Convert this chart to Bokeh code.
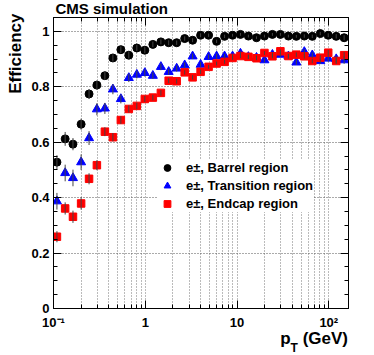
from bokeh.plotting import figure
from bokeh.layouts import column
from bokeh.models import (FixedTicker, LogAxis, LinearAxis, Whisker, ColumnDataSource,
                          Legend, LegendItem, Title, Div, CustomJSTickFormatter, Range1d)
from bokeh.embed import file_html
from bokeh.resources import INLINE

# ---- data ----
pt = [0.109, 0.134, 0.163, 0.200, 0.244, 0.297, 0.363, 0.444, 0.542, 0.662,
      0.809, 0.989, 1.21, 1.48, 1.80, 2.20, 2.69, 3.28, 4.01, 4.90,
      5.99, 7.32, 8.94, 10.9, 13.3, 16.3, 19.9, 24.3, 29.7, 36.3,
      44.3, 54.1, 66.1, 80.8, 98.6, 120.5, 147.0]

eff_barrel = [0.528, 0.612, 0.593, 0.665, 0.774, 0.806, 0.840, 0.904, 0.934, 0.914,
              0.940, 0.932, 0.953, 0.962, 0.959, 0.959, 0.974, 0.968, 0.986, 0.986,
              0.964, 0.982, 0.986, 0.989, 0.983, 0.977, 0.983, 0.989, 0.989, 0.983,
              0.982, 0.983, 0.982, 0.992, 0.986, 0.982, 0.977]
err_barrel = [0.025, 0.025, 0.022, 0.020, 0.018, 0.016, 0.015, 0.013, 0.012, 0.012,
              0.011, 0.011, 0.010, 0.009, 0.009, 0.008, 0.008, 0.007, 0.007, 0.006,
              0.006, 0.006, 0.005, 0.005, 0.005, 0.005, 0.005, 0.005, 0.005, 0.005,
              0.005, 0.006, 0.006, 0.006, 0.007, 0.008, 0.009]

eff_transition = [0.387, 0.489, 0.471, 0.528, 0.615, 0.719, 0.722, 0.791, 0.756, 0.832,
                  0.844, 0.850, 0.840, 0.872, 0.854, 0.866, 0.878, 0.910, 0.880, 0.908,
                  0.910, 0.910, 0.910, 0.920, 0.908, 0.905, 0.896, 0.916, 0.916, 0.910,
                  0.888, 0.926, 0.914, 0.893, 0.902, 0.900, 0.896]
err_transition = [0.030, 0.030, 0.030, 0.028, 0.025, 0.022, 0.020, 0.018, 0.016, 0.015,
                  0.014, 0.013, 0.012, 0.012, 0.011, 0.011, 0.010, 0.010, 0.009, 0.009,
                  0.009, 0.008, 0.008, 0.008, 0.008, 0.008, 0.008, 0.008, 0.008, 0.009,
                  0.009, 0.010, 0.010, 0.010, 0.011, 0.012, 0.013]

eff_endcap = [0.259, 0.361, 0.331, 0.379, 0.468, 0.517, 0.638, 0.618, 0.680, 0.720,
              0.731, 0.756, 0.761, 0.778, 0.822, 0.820, 0.852, 0.834, 0.854, 0.872,
              0.884, 0.890, 0.904, 0.911, 0.908, 0.903, 0.922, 0.910, 0.928, 0.911,
              0.916, 0.910, 0.893, 0.905, 0.923, 0.893, 0.914]
err_endcap = [0.020, 0.022, 0.022, 0.022, 0.020, 0.018, 0.016, 0.015, 0.014, 0.013,
              0.012, 0.011, 0.010, 0.010, 0.009, 0.009, 0.008, 0.008, 0.008, 0.007,
              0.007, 0.007, 0.007, 0.007, 0.007, 0.007, 0.007, 0.007, 0.007, 0.007,
              0.008, 0.008, 0.008, 0.009, 0.010, 0.011, 0.012]

x_major = [0.1, 1, 10, 100]
x_major_labels = ["10\u207b\u00b9", "1", "10", "10\u00b2"]
x_minor = [0.2, 0.3, 0.4, 0.5, 0.6, 0.7, 0.8, 0.9,
           2, 3, 4, 5, 6, 7, 8, 9,
           20, 30, 40, 50, 60, 70, 80, 90, 200]
y_major = [0.0, 0.2, 0.4, 0.6, 0.8, 1.0]
y_major_labels = ["0", "0.2", "0.4", "0.6", "0.8", "1"]
y_minor = [0.05, 0.1, 0.15, 0.25, 0.3, 0.35, 0.45, 0.5, 0.55, 0.65, 0.7, 0.75,
           0.85, 0.9, 0.95, 1.05]

series_names = ["e\u00b1, Barrel region", "e\u00b1, Transition region", "e\u00b1, Endcap region"]
title_text = "CMS simulation"
y_title = "Efficiency"

FONT = "Liberation Sans"

p = figure(width=374, height=332, x_axis_type="log",
           x_range=Range1d(0.1, 164), y_range=Range1d(0, 1.05),
           output_backend="svg", toolbar_location=None,
           min_border_left=49, min_border_right=26, min_border_top=17, min_border_bottom=24)
p.outline_line_color = "black"
p.outline_line_width = 1
p.background_fill_color = "white"
p.border_fill_color = "white"

p.title.text = title_text
p.title.align = "left"
p.title.vertical_align = "top"
p.title.offset = 2
p.title.standoff = -3
p.title.text_font = FONT
p.title.text_font_style = "bold"
p.title.text_font_size = "15px"
p.title.text_color = "black"

xt = FixedTicker(ticks=x_major, minor_ticks=x_minor)
yt = FixedTicker(ticks=y_major, minor_ticks=y_minor)

xa = p.xaxis[0]
xa.ticker = xt
xa.major_label_overrides = dict(zip(x_major, x_major_labels))
ya = p.yaxis[0]
ya.ticker = yt
ya.major_label_overrides = dict(zip(y_major, y_major_labels))

for ax in (xa, ya):
    ax.major_tick_in = 8
    ax.major_tick_out = 0
    ax.minor_tick_in = 4
    ax.minor_tick_out = 0
    ax.major_label_text_font = FONT
    ax.major_label_text_font_style = "bold"
    ax.major_label_text_font_size = "13px"
    ax.major_label_text_color = "black"
    ax.axis_line_color = "black"
    ax.major_tick_line_color = "black"
    ax.minor_tick_line_color = "black"
xa.major_label_standoff = 6
ya.major_label_standoff = 4

blank = CustomJSTickFormatter(code="return ''")
top = LogAxis(ticker=xt, formatter=blank)
right = LinearAxis(ticker=yt, formatter=blank)
for ax in (top, right):
    ax.major_tick_in = 8
    ax.major_tick_out = 0
    ax.minor_tick_in = 4
    ax.minor_tick_out = 0
    ax.major_label_standoff = 0
    ax.major_label_text_font_size = "0px"
    ax.axis_line_color = "black"
p.add_layout(top, "above")
p.add_layout(right, "right")

p.add_layout(Title(text=y_title, align="right", offset=-4, text_font=FONT,
                   text_font_style="bold", text_font_size="17px", text_color="black",
                   standoff=7), "left")

# grids
p.xgrid.ticker = xt
p.ygrid.ticker = yt
p.xgrid.grid_line_color = "#777777"
p.xgrid.grid_line_dash = "1 2"
p.xgrid.minor_grid_line_color = "#777777"
p.xgrid.minor_grid_line_dash = "1 2"
p.ygrid.grid_line_color = "#555555"
p.ygrid.grid_line_dash = "1 2"
p.ygrid.minor_grid_line_color = None

styles = [
    (eff_barrel, err_barrel, "circle", 8, "black"),
    (eff_transition, err_transition, "triangle", 9, "#0000ff"),
    (eff_endcap, err_endcap, "square", 7.5, "#ff0000"),
]
items = []
for (eff, err, marker, size, color), name in zip(styles, series_names):
    src = ColumnDataSource(dict(x=pt, y=eff,
                                lo=[a - b for a, b in zip(eff, err)],
                                hi=[a + b for a, b in zip(eff, err)]))
    w = Whisker(source=src, base="x", lower="lo", upper="hi", dimension="height",
                line_color="#444444", line_width=1, upper_head=None, lower_head=None,
                level="glyph")
    p.add_layout(w)
    r = p.scatter("x", "y", source=src, marker=marker, size=size,
                  fill_color=color, line_color=color)
    items.append(LegendItem(label=name, renderers=[r]))

legend = Legend(items=items, location=(104, 96), margin=0, padding=5,
                glyph_width=20, glyph_height=17, label_height=17, spacing=1,
                label_standoff=9, border_line_color=None,
                background_fill_color="white", background_fill_alpha=1.0,
                label_text_font=FONT, label_text_font_style="bold",
                label_text_font_size="13px", label_text_color="black")
p.add_layout(legend, "center")

xlabel = Div(text=(
    '<div style="font-family:\'Liberation Sans\',sans-serif;font-weight:bold;'
    'font-size:17px;line-height:17px;color:black;text-align:right;width:348px;">'
    'p<span style="font-size:12px;position:relative;top:8px;">T</span> (GeV)</div>'),
    width=374, height=23, margin=(-2, 0, 0, 0))

layout = column(p, xlabel, spacing=0)
open("out.html", "w").write(file_html(layout, INLINE))
